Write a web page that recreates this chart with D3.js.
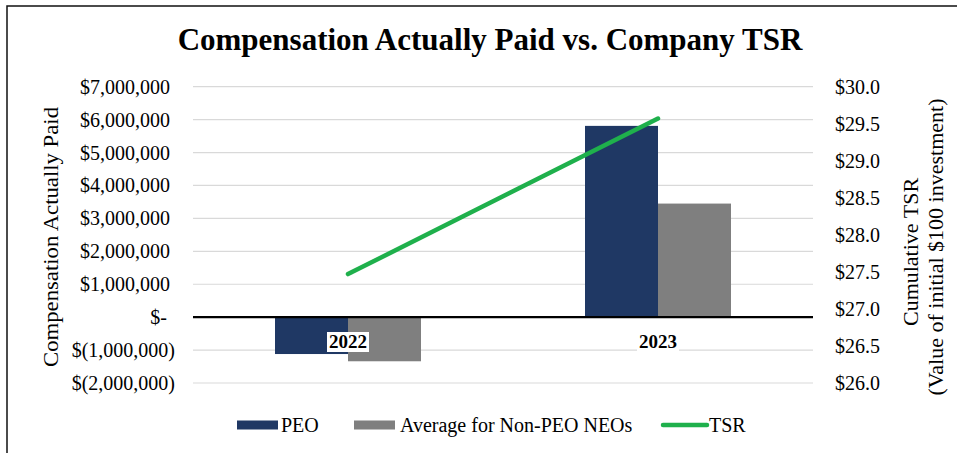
<!DOCTYPE html>
<html>
<head>
<meta charset="utf-8">
<script src="https://cdn.jsdelivr.net/npm/d3@7"></script>
<style>
  html, body { margin: 0; padding: 0; background: #fff; }
  svg { display: block; }
  text { font-family: "Liberation Serif", "Times New Roman", serif; fill: #000; }
</style>
</head>
<body>
<svg id="chart" width="957" height="453"></svg>
<script>
// ---- data ----
const years = ["2022", "2023"];
const seriesNames = ["PEO", "Average for Non-PEO NEOs"];
const peoCAP = [-1120000, 5810000];
const neoCAP = [-1340000, 3450000];
const tsr = [27.47, 29.57];
const leftTicks = [-2000000, -1000000, 0, 1000000, 2000000, 3000000, 4000000, 5000000, 6000000, 7000000];
const rightTicks = [26.0, 26.5, 27.0, 27.5, 28.0, 28.5, 29.0, 29.5, 30.0];
const titleText = "Compensation Actually Paid vs. Company TSR";
const leftTitle = "Compensation Actually Paid";
const rightTitle = ["Cumulative TSR", "(Value of initial $100 investment)"];
const legendLabels = ["PEO", "Average for Non-PEO NEOs", "TSR"];

const colors = { PEO: "#1f3864", NEO: "#7f7f7f", TSR: "#1fb04c" };

const svg = d3.select("#chart");

// frame
svg.append("path").attr("d", "M7,453 V6 H957").attr("fill", "none").attr("stroke", "#111").attr("stroke-width", 1.5);

const plot = { left: 193, right: 813, top: 86.7, bottom: 383 };

const x = d3.scaleBand().domain(years).range([plot.left, plot.right]).padding(0);
const x1 = d3.scaleBand().domain(seriesNames).range([-73, 73]).padding(0);
const yL = d3.scaleLinear().domain([-2000000, 7000000]).range([plot.bottom, plot.top]);
const yR = d3.scaleLinear().domain([26, 30]).range([plot.bottom, plot.top]);

// title
svg.append("text").attr("x", 490).attr("y", 50).attr("text-anchor", "middle")
  .attr("font-size", 31).attr("font-weight", "bold").text(titleText);

// gridlines
svg.append("g").selectAll("line").data(leftTicks.filter(d => d !== 0)).join("line")
  .attr("x1", plot.left).attr("x2", plot.right)
  .attr("y1", d => yL(d)).attr("y2", d => yL(d))
  .attr("stroke", "#d9d9d9").attr("stroke-width", 1.2);

// left axis labels
function fmtLeft(d) {
  if (d === 0) return "$-";
  const s = d3.format(",")(Math.abs(d));
  return d < 0 ? "$(" + s + ")" : "$" + s;
}
svg.append("g").selectAll("text").data(leftTicks).join("text")
  .attr("x", d => d < 0 ? 175 : (d === 0 ? 167 : 170))
  .attr("y", d => yL(d)).attr("dy", "0.35em")
  .attr("text-anchor", "end").attr("font-size", 20).text(fmtLeft);

// right axis labels
svg.append("g").selectAll("text").data(rightTicks).join("text")
  .attr("x", 835).attr("y", d => yR(d)).attr("dy", "0.35em")
  .attr("font-size", 20).text(d => "$" + d3.format(".1f")(d));

// bars
const barData = [];
years.forEach((yr, i) => {
  barData.push({ year: yr, s: seriesNames[0], v: peoCAP[i], c: colors.PEO });
  barData.push({ year: yr, s: seriesNames[1], v: neoCAP[i], c: colors.NEO });
});
svg.append("g").selectAll("rect").data(barData).join("rect")
  .attr("x", d => x(d.year) + x.bandwidth() / 2 + x1(d.s))
  .attr("width", x1.bandwidth())
  .attr("y", d => Math.min(yL(d.v), yL(0)))
  .attr("height", d => Math.abs(yL(d.v) - yL(0)))
  .attr("fill", d => d.c);

// zero line
svg.append("line").attr("x1", plot.left).attr("x2", plot.right)
  .attr("y1", yL(0)).attr("y2", yL(0)).attr("stroke", "#000").attr("stroke-width", 2.2);

// category labels with white background
const catG = svg.append("g");
years.forEach(yr => {
  const cx = x(yr) + x.bandwidth() / 2;
  const t = catG.append("text").attr("x", cx).attr("y", 348).attr("text-anchor", "middle")
    .attr("font-size", 19).attr("font-weight", "bold").text(yr);
  const bb = t.node().getBBox();
  catG.insert("rect", "text").attr("x", bb.x - 2).attr("y", bb.y + 1).attr("width", bb.width + 4).attr("height", bb.height - 1)
    .attr("fill", "#fff");
});

// TSR line
const line = d3.line().x((d, i) => x(years[i]) + x.bandwidth() / 2).y(d => yR(d));
svg.append("path").datum(tsr).attr("d", line).attr("fill", "none")
  .attr("stroke", colors.TSR).attr("stroke-width", 4.5).attr("stroke-linecap", "round");

// axis titles
svg.append("text").attr("transform", "translate(58,237) rotate(-90)")
  .attr("text-anchor", "middle").attr("font-size", 22)
  .attr("textLength", 260).attr("lengthAdjust", "spacingAndGlyphs").text(leftTitle);
svg.append("text").attr("transform", "translate(918,252) rotate(-90)")
  .attr("text-anchor", "middle").attr("font-size", 22).text(rightTitle[0]);
svg.append("text").attr("transform", "translate(943,247) rotate(-90)")
  .attr("text-anchor", "middle").attr("font-size", 22).text(rightTitle[1]);

// legend
const lg = svg.append("g");
const ly = 425;
lg.append("rect").attr("x", 237).attr("y", ly - 4.5).attr("width", 41).attr("height", 9).attr("fill", colors.PEO);
lg.append("text").attr("x", 281).attr("y", ly).attr("dy", "0.35em").attr("font-size", 20).text(legendLabels[0]);
lg.append("rect").attr("x", 354).attr("y", ly - 4.5).attr("width", 41).attr("height", 9).attr("fill", colors.NEO);
lg.append("text").attr("x", 400).attr("y", ly).attr("dy", "0.35em").attr("font-size", 20).text(legendLabels[1]);
lg.append("line").attr("x1", 663).attr("x2", 707).attr("y1", ly).attr("y2", ly)
  .attr("stroke", colors.TSR).attr("stroke-width", 4.5).attr("stroke-linecap", "round");
lg.append("text").attr("x", 709).attr("y", ly).attr("dy", "0.35em").attr("font-size", 20).text(legendLabels[2]);
</script>
</body>
</html>
